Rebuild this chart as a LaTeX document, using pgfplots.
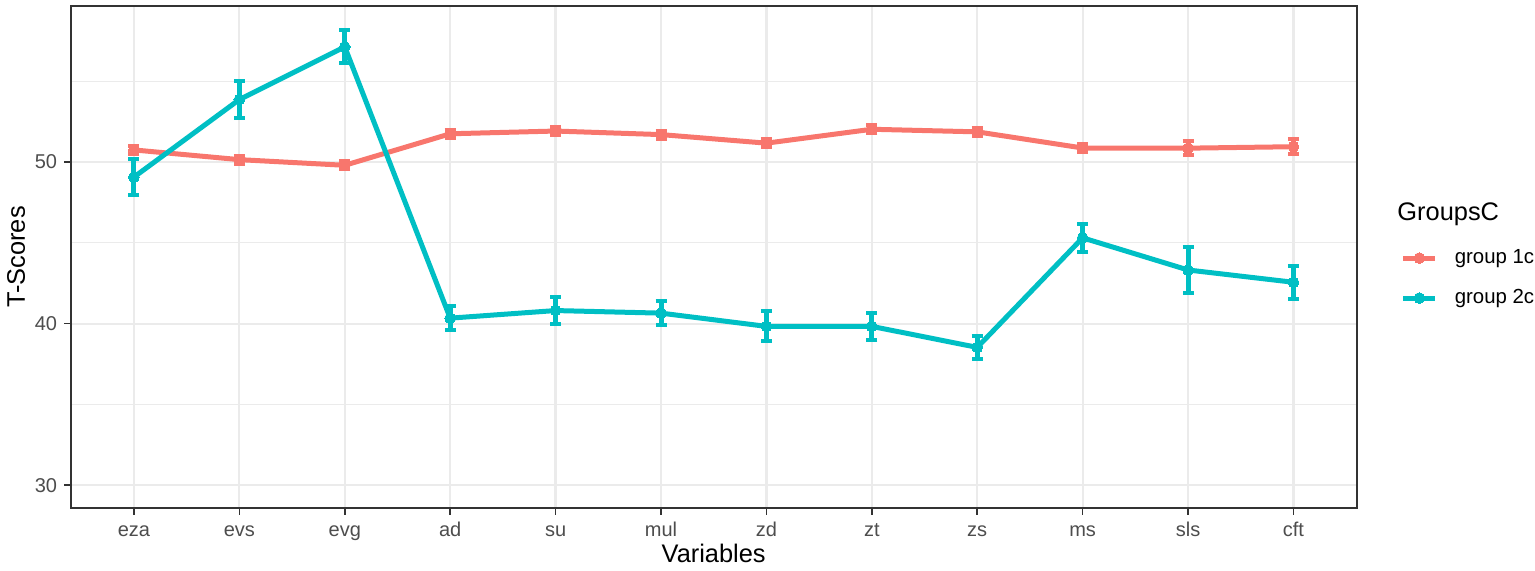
\documentclass[border=0pt]{standalone}
\usepackage{pgfplots}
\pgfplotsset{compat=1.18}
\usepackage{pgfplotstable}
\usepackage{fontspec}
\setmainfont{Liberation Sans}

\definecolor{gA}{HTML}{F8766D}
\definecolor{gB}{HTML}{00BFC4}
\definecolor{gridc}{HTML}{EBEBEB}
\definecolor{tickc}{HTML}{4D4D4D}
\definecolor{framec}{HTML}{333333}

% x = variable index, y = mean T-score, e = error
\pgfplotstableread{
x y e
0 50.75 0.25
1 50.15 0.25
2 49.80 0.25
3 51.75 0.25
4 51.92 0.25
5 51.70 0.25
6 51.17 0.25
7 52.03 0.25
8 51.87 0.25
9 50.87 0.25
10 50.86 0.44
11 50.95 0.47
}\groupA

\pgfplotstableread{
x y e
0 49.07 1.12
1 53.87 1.12
2 57.13 1.02
3 40.34 0.75
4 40.81 0.82
5 40.65 0.73
6 39.83 0.93
7 39.83 0.82
8 38.53 0.70
9 45.31 0.88
10 43.32 1.40
11 42.56 1.03
}\groupB

\begin{document}
\begin{tikzpicture}
\path[use as bounding box] (0,0) rectangle (767.5pt,285.5pt);
\begin{axis}[
  at={(35.35pt,31.5pt)}, anchor=south west,
  scale only axis, width=643pt, height=251pt,
  xmin=-0.6, xmax=11.6, ymin=28.59, ymax=59.66,
  xtick={0,...,11},
  xticklabels={eza,evs,evg,ad,su,mul,zd,zt,zs,ms,sls,cft},
  ytick={30,40,50}, minor ytick={35,45,55},
  /pgf/number format/assume math mode=true,
  grid=both,
  major grid style={gridc, line width=1.1pt},
  minor grid style={gridc, line width=0.55pt},
  axis line style={framec, line width=0.8pt},
  tick style={framec, line width=0.8pt},
  tick align=outside, major tick length=3.3pt, minor tick length=0pt,
  xtick pos=bottom, ytick pos=left,
  tick label style={font=\fontsize{10}{12}\selectfont, text=tickc},
  xticklabel style={text height=7.2pt},
  xlabel={Variables}, ylabel={T-Scores},
  label style={font=\fontsize{12.7}{15}\selectfont},
  xlabel style={at={(axis description cs:0.5,-0.0896)}, anchor=center},
  ylabel style={at={(axis description cs:-0.0425,0.5)}, anchor=center},
  legend style={at={(axis description cs:1.034,0.518)}, anchor=north west,
    draw=none, fill=none, inner sep=0pt,
    font=\fontsize{10.2}{12}\selectfont,
    nodes={inner sep=0pt, text height=7.5pt, text depth=2.2pt},
    row sep=10.3pt, column sep=8.5pt},
  legend cell align=left,
  legend image code/.code={\draw[mark repeat=2,mark phase=2,#1]
    plot coordinates {(0pt,0pt) (8pt,0pt) (16pt,0pt)};},
]
\addplot[gA, line width=2.5pt, mark=*, mark size=2.7pt,
  mark options={line width=0pt},
  error bars/.cd, y dir=both, y explicit,
  error bar style={line width=2.5pt},
  error mark options={line width=2pt, mark size=2.75pt, rotate=90}]
  table[x=x, y=y, y error=e] {\groupA};
\addlegendentry{group 1c}
\addplot[gB, line width=2.5pt, mark=*, mark size=2.7pt,
  mark options={line width=0pt},
  error bars/.cd, y dir=both, y explicit,
  error bar style={line width=2.5pt},
  error mark options={line width=2pt, mark size=2.75pt, rotate=90}]
  table[x=x, y=y, y error=e] {\groupB};
\addlegendentry{group 2c}
\end{axis}
\node[anchor=base west, inner sep=0pt, font=\fontsize{12.7}{15}\selectfont]
  at (698.5pt,175pt) {GroupsC};
\end{tikzpicture}
\end{document}
